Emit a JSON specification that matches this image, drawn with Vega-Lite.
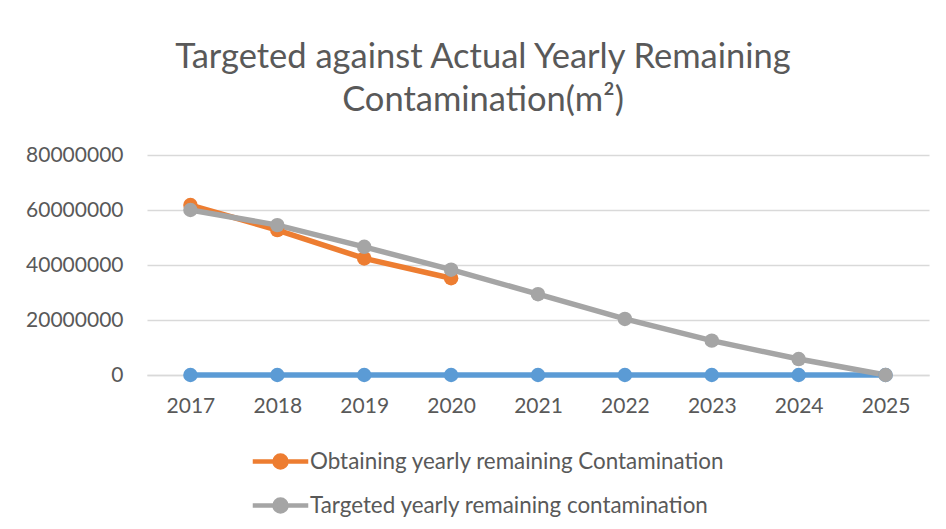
{
  "$schema": "https://vega.github.io/schema/vega-lite/v6.json",
  "width": 782,
  "height": 220,
  "autosize": "none",
  "padding": {"left": 147, "top": 155, "right": 17, "bottom": 154},
  "background": "white",
  "title": {
    "text": ["Targeted against Actual Yearly Remaining", "Contamination(m²)"],
    "font": "Lato",
    "fontSize": 34.5,
    "fontWeight": "normal",
    "color": "#595959",
    "anchor": "middle",
    "lineHeight": 43,
    "dx": -55,
    "offset": 26
  },
  "data": {
    "values": [
      {"year": "2017", "series": "Series 1", "value": 0},
      {"year": "2018", "series": "Series 1", "value": 0},
      {"year": "2019", "series": "Series 1", "value": 0},
      {"year": "2020", "series": "Series 1", "value": 0},
      {"year": "2021", "series": "Series 1", "value": 0},
      {"year": "2022", "series": "Series 1", "value": 0},
      {"year": "2023", "series": "Series 1", "value": 0},
      {"year": "2024", "series": "Series 1", "value": 0},
      {"year": "2025", "series": "Series 1", "value": 0},
      {"year": "2017", "series": "Obtaining yearly remaining Contamination", "value": 61800000},
      {"year": "2018", "series": "Obtaining yearly remaining Contamination", "value": 52700000},
      {"year": "2019", "series": "Obtaining yearly remaining Contamination", "value": 42400000},
      {"year": "2020", "series": "Obtaining yearly remaining Contamination", "value": 35200000},
      {"year": "2017", "series": "Targeted yearly remaining contamination", "value": 60000000},
      {"year": "2018", "series": "Targeted yearly remaining contamination", "value": 54500000},
      {"year": "2019", "series": "Targeted yearly remaining contamination", "value": 46600000},
      {"year": "2020", "series": "Targeted yearly remaining contamination", "value": 38300000},
      {"year": "2021", "series": "Targeted yearly remaining contamination", "value": 29400000},
      {"year": "2022", "series": "Targeted yearly remaining contamination", "value": 20400000},
      {"year": "2023", "series": "Targeted yearly remaining contamination", "value": 12500000},
      {"year": "2024", "series": "Targeted yearly remaining contamination", "value": 5800000},
      {"year": "2025", "series": "Targeted yearly remaining contamination", "value": 0}
    ]
  },
  "mark": {"type": "line", "strokeWidth": 5.5, "point": {"filled": true, "size": 210, "opacity": 1}},
  "encoding": {
    "x": {
      "field": "year",
      "type": "ordinal",
      "scale": {"paddingInner": 0, "paddingOuter": 0.5},
      "axis": {
        "title": null,
        "labelAngle": 0,
        "labelFont": "Lato",
        "labelFontSize": 21,
        "labelColor": "#595959",
        "labelPadding": 20,
        "ticks": false,
        "domainColor": "#d9d9d9",
        "domainWidth": 1.5,
        "grid": false
      }
    },
    "y": {
      "field": "value",
      "type": "quantitative",
      "scale": {"domain": [0, 80000000], "nice": false},
      "axis": {
        "title": null,
        "values": [0, 20000000, 40000000, 60000000, 80000000],
        "format": "d",
        "labelFont": "Lato",
        "labelFontSize": 21,
        "labelColor": "#595959",
        "labelPadding": 24,
        "ticks": false,
        "domain": false,
        "gridColor": "#d9d9d9",
        "gridWidth": 1.5
      }
    },
    "color": {
      "field": "series",
      "type": "nominal",
      "scale": {
        "domain": ["Series 1", "Obtaining yearly remaining Contamination", "Targeted yearly remaining contamination"],
        "range": ["#5B9BD5", "#ED7D31", "#A5A5A5"]
      },
      "legend": {
        "title": null,
        "orient": "none",
        "direction": "vertical",
        "legendX": 116,
        "legendY": 289,
        "values": ["Obtaining yearly remaining Contamination", "Targeted yearly remaining contamination"],
        "symbolType": "M-1.85,0H1.85M0.4,0C0.4,0.221 0.221,0.4 0,0.4C-0.221,0.4 -0.4,0.221 -0.4,0C-0.4,-0.221 -0.221,-0.4 0,-0.4C0.221,-0.4 0.4,-0.221 0.4,0Z",
        "symbolSize": 900,
        "symbolStrokeWidth": 4.5,
        "labelFont": "Lato",
        "labelFontSize": 22.4,
        "labelColor": "#595959",
        "labelOffset": 12,
        "rowPadding": 11,
        "padding": 0,
        "labelLimit": 700,
        "encode": {
          "symbols": {"update": {"fill": {"scale": "color", "field": "value"}, "fillOpacity": {"value": 1}, "opacity": {"value": 1}}}
        }
      }
    }
  },
  "config": {
    "view": {"stroke": null}
  }
}
